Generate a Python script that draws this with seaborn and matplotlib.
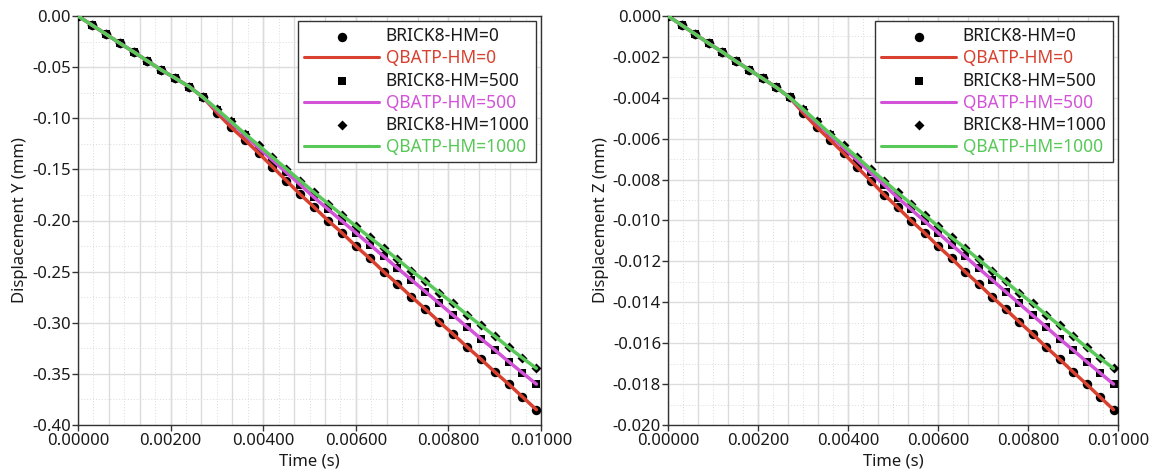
import numpy as np
import pandas as pd
import matplotlib
matplotlib.use("Agg")
import matplotlib.pyplot as plt
import seaborn as sns
from matplotlib.ticker import MultipleLocator, FormatStrFormatter

sns.set_theme(style="white")
plt.rcParams['font.family'] = ['Noto Sans', 'DejaVu Sans']

# time steps (s)
time_s = [0.0000, 0.0003, 0.0006, 0.0009, 0.0012, 0.0015, 0.0018, 0.0021, 0.0024, 0.0027,
          0.0030, 0.0033, 0.0036, 0.0039, 0.0042, 0.0045, 0.0048, 0.0051, 0.0054, 0.0057,
          0.0060, 0.0063, 0.0066, 0.0069, 0.0072, 0.0075, 0.0078, 0.0081, 0.0084, 0.0087,
          0.0090, 0.0093, 0.0096, 0.0099]

# displacement Y (mm) - identical before the kink
disp_y_start = [0.0, -0.0088, -0.0176, -0.0265, -0.0350, -0.0440, -0.0528, -0.0608, -0.0690, -0.0795]
disp_y_hm0 = disp_y_start + [-0.0945, -0.1086, -0.1210, -0.1340, -0.1475, -0.1610, -0.1745, -0.1870,
                             -0.2000, -0.2120, -0.2250, -0.2370, -0.2500, -0.2620, -0.2745, -0.2865,
                             -0.2990, -0.3110, -0.3235, -0.3355, -0.3480, -0.3600, -0.3725, -0.3850]
disp_y_hm500 = disp_y_start + [-0.0920, -0.1040, -0.1165, -0.1290, -0.1410, -0.1530, -0.1650, -0.1775,
                               -0.1890, -0.2005, -0.2120, -0.2235, -0.2350, -0.2465, -0.2580, -0.2695,
                               -0.2810, -0.2925, -0.3040, -0.3155, -0.3265, -0.3380, -0.3490, -0.3600]
disp_y_hm1000 = disp_y_start + [-0.0910, -0.1030, -0.1150, -0.1265, -0.1380, -0.1495, -0.1610, -0.1725,
                                -0.1835, -0.1945, -0.2055, -0.2165, -0.2270, -0.2380, -0.2490, -0.2595,
                                -0.2705, -0.2810, -0.2920, -0.3025, -0.3130, -0.3240, -0.3345, -0.3445]

# displacement Z (mm)
disp_z_start = [0.0, -0.00044, -0.00088, -0.00133, -0.00175, -0.00220, -0.00262, -0.00305, -0.00348, -0.00398]
disp_z_hm0 = disp_z_start + [-0.00473, -0.00543, -0.00605, -0.00670, -0.00738, -0.00805, -0.00873, -0.00935,
                             -0.01000, -0.01060, -0.01125, -0.01185, -0.01250, -0.01310, -0.01373, -0.01433,
                             -0.01495, -0.01555, -0.01618, -0.01678, -0.01740, -0.01800, -0.01863, -0.01925]
disp_z_hm500 = disp_z_start + [-0.00460, -0.00520, -0.00583, -0.00645, -0.00705, -0.00765, -0.00825, -0.00888,
                               -0.00945, -0.01003, -0.01060, -0.01118, -0.01175, -0.01233, -0.01290, -0.01348,
                               -0.01405, -0.01463, -0.01520, -0.01578, -0.01633, -0.01690, -0.01745, -0.01800]
disp_z_hm1000 = disp_z_start + [-0.00455, -0.00515, -0.00575, -0.00633, -0.00690, -0.00748, -0.00805, -0.00863,
                                -0.00918, -0.00973, -0.01028, -0.01083, -0.01135, -0.01190, -0.01245, -0.01298,
                                -0.01353, -0.01405, -0.01460, -0.01513, -0.01565, -0.01620, -0.01673, -0.01723]

hm_values = ['0', '500', '1000']
markers = {'0': 'o', '500': 's', '1000': 'D'}
marker_sizes = {'0': 46, '500': 34, '1000': 26}
line_colors = {'0': '#d8412f', '500': '#d253d8', '1000': '#58c858'}


def plot_panel(ax, series, ylabel, ymin, ystep, yfmt):
    """Plot satu panel perpindahan"""
    for hm in hm_values:
        df = pd.DataFrame({'time': time_s, 'disp': series[hm]})
        sns.scatterplot(data=df, x='time', y='disp', ax=ax, color='black', marker=markers[hm],
                        s=marker_sizes[hm], edgecolor='black', linewidth=0, zorder=3,
                        label=f'BRICK8-HM={hm}')
    for hm in hm_values:
        df = pd.DataFrame({'time': time_s, 'disp': series[hm]})
        sns.lineplot(data=df, x='time', y='disp', ax=ax, color=line_colors[hm], lw=2.5,
                     zorder=4, label=f'QBATP-HM={hm}')

    h, l = ax.get_legend_handles_labels()
    lookup = dict(zip(l, h))
    order = []
    for hm in hm_values:
        order += [f'BRICK8-HM={hm}', f'QBATP-HM={hm}']
    leg = ax.legend([lookup[k] for k in order], order, loc='upper right', fontsize=12.5,
                    frameon=True, fancybox=False, edgecolor='#333333', framealpha=1,
                    handlelength=4.3, handletextpad=0.4, labelspacing=0.24,
                    borderpad=0.35, borderaxespad=0.3)
    leg.get_frame().set_linewidth(1.0)
    for txt, key in zip(leg.get_texts(), order):
        if key.startswith('QBATP'):
            txt.set_color(line_colors[key.split('=')[1]])
        else:
            txt.set_color('#1a1a1a')
    for lh in leg.get_lines():
        lh.set_linewidth(2.2)

    ax.set_xlim(0, 0.01)
    ax.set_ylim(ymin, 0)
    ax.xaxis.set_major_locator(MultipleLocator(0.002))
    ax.xaxis.set_minor_locator(MultipleLocator(0.002 / 6))
    ax.yaxis.set_major_locator(MultipleLocator(ystep))
    ax.yaxis.set_minor_locator(MultipleLocator(ystep / 2))
    ax.xaxis.set_major_formatter(FormatStrFormatter('%.5f'))
    ax.yaxis.set_major_formatter(FormatStrFormatter(yfmt))

    ax.grid(which='major', color='#dcdcdc', lw=1.0, zorder=0)
    ax.grid(which='minor', color='#dadada', lw=0.7, ls=(0, (1, 2)), zorder=0)
    for xv in np.arange(0, 0.0100001, 0.002 / 3):
        ax.axvline(xv, color='#dcdcdc', lw=1.0, zorder=0.5)
    ax.set_axisbelow(True)

    ax.tick_params(which='major', direction='out', length=4, width=1, color='#333333',
                   labelsize=12, labelcolor='#1a1a1a', pad=1, bottom=True, left=True)
    ax.tick_params(axis='x', which='major', pad=2)
    ax.tick_params(which='minor', length=0)
    for sp in ax.spines.values():
        sp.set_visible(True)
        sp.set_color('#333333')
        sp.set_linewidth(1.0)

    ax.set_xlabel('Time (s)', fontsize=12, color='#1a1a1a', labelpad=3)
    ax.set_ylabel(ylabel, fontsize=12, color='#1a1a1a', labelpad=3)


fig = plt.figure(figsize=(11.61, 4.72), dpi=100)
ax1 = fig.add_axes([78 / 1161, 47 / 472, 463 / 1161, 409 / 472])
ax2 = fig.add_axes([668 / 1161, 47 / 472, 450 / 1161, 409 / 472])

plot_panel(ax1, {'0': disp_y_hm0, '500': disp_y_hm500, '1000': disp_y_hm1000},
           'Displacement Y (mm)', -0.40, 0.05, '%.2f')
plot_panel(ax2, {'0': disp_z_hm0, '500': disp_z_hm500, '1000': disp_z_hm1000},
           'Displacement Z (mm)', -0.020, 0.002, '%.3f')

fig.savefig('out.png', dpi=100)
plt.close(fig)
